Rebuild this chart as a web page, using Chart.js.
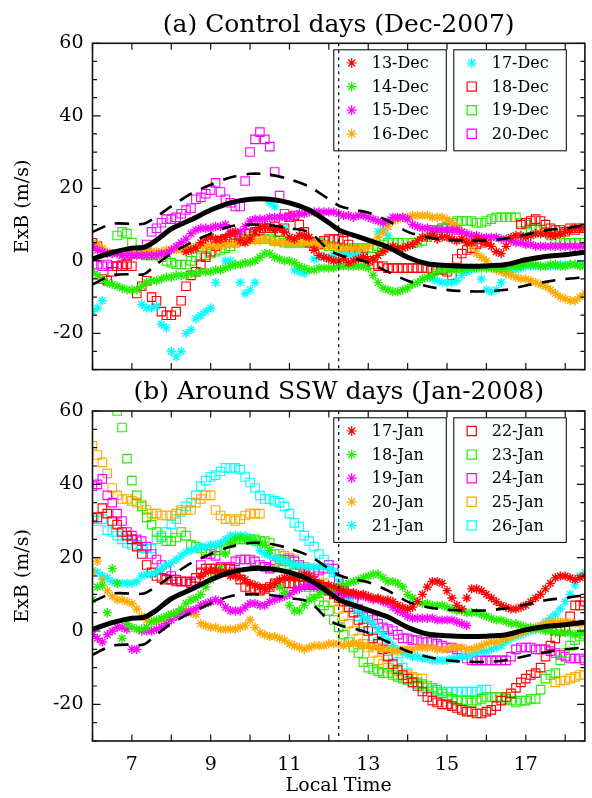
<!DOCTYPE html>
<html><head><meta charset="utf-8">
<script src="https://cdn.jsdelivr.net/npm/chart.js@4.4.1/dist/chart.umd.min.js"></script>
<style>
html,body{margin:0;padding:0;background:#fff;}
#wrap{position:relative;width:592px;height:798px;overflow:hidden;}
canvas{position:absolute;left:0;}
</style></head><body>
<div id="wrap">
<canvas id="cA" width="592" height="390" style="top:0"></canvas>
<canvas id="cB" width="592" height="438" style="top:360px"></canvas>
</div>
<script>
const N = null;
// ---------- DATA ----------
// sample times (local time, hours), one row per hour
const TIMES = [
  6.0,6.125,6.25,6.375,6.5,6.625,6.75,6.875,
  7.0,7.125,7.25,7.375,7.5,7.625,7.75,7.875,
  8.0,8.125,8.25,8.375,8.5,8.625,8.75,8.875,
  9.0,9.125,9.25,9.375,9.5,9.625,9.75,9.875,
  10.0,10.125,10.25,10.375,10.5,10.625,10.75,10.875,
  11.0,11.125,11.25,11.375,11.5,11.625,11.75,11.875,
  12.0,12.125,12.25,12.375,12.5,12.625,12.75,12.875,
  13.0,13.125,13.25,13.375,13.5,13.625,13.75,13.875,
  14.0,14.125,14.25,14.375,14.5,14.625,14.75,14.875,
  15.0,15.125,15.25,15.375,15.5,15.625,15.75,15.875,
  16.0,16.125,16.25,16.375,16.5,16.625,16.75,16.875,
  17.0,17.125,17.25,17.375,17.5,17.625,17.75,17.875,
  18.0,18.125,18.25,18.375,18.5];

const CURVE_TIMES = [6,6.5,7,7.3,7.6,8,8.5,9,9.5,10,10.5,11,11.5,12,12.3,12.7,13,13.5,14,14.5,15,15.5,16,16.5,17,17.5,18,18.5];
const QUIET_MEAN  = [0.5,2.3,3.5,3.7,5.5,8.8,11.3,14,16,17,17,16,14,10.5,8.3,6.8,5.7,3.8,1,-0.8,-1.3,-1.5,-1.4,-1,0.3,1.2,1.7,2.4];
const QUIET_UPPER = [8,10.2,10.2,10.2,12,15,18.5,21,23,24,23.8,22.5,20.5,17,15,14,13.3,11,8,6.5,5.8,5.6,5.6,6.2,7.2,8.4,9,9.8];
const QUIET_LOWER = [-6.5,-4,-3.7,-3.7,-1.2,2,5,7.5,9.5,10,9.8,9,7.9,3,1.5,0.5,-0.5,-3,-5.5,-7,-8,-8.4,-8.4,-8,-6.8,-5.8,-5,-4.5];

const MARKER_LINE = 12.25;
const X_TICKS = [7,9,11,13,15,17];
const Y_TICKS = [-20,0,20,40,60];

// Panel (a): Dec-2007
const DEC_LABELS = ['13-Dec','14-Dec','15-Dec','16-Dec','17-Dec','18-Dec','19-Dec','20-Dec'];
const DEC13 = [N,N,N,N,N,N,N,N, N,N,N,N,N,N,N,N,
  N,N,N,2.5,3,3.5,5,6,
  6.5,6,6,6.5,7.5,8,5.5,5,
  6,8,9,9.5,9,8.5,9,8,
  6.5,6,7,7,6.5,3,1.5,1,
  0.5,0,0,0.5,-0.5,0,0.5,1,
  0,0.5,1.5,2.5,3.5,4,3.5,3.5,
  4,4.5,5.5,6.5,6.5,7,6,6.5,
  6.5,6,5.5,6,5,5,6,5.5,
  5,4,2.5,2,4,6.5,7,7,
  6.5,7,7.5,7.5,7.5,7,7,7.5,
  8,8.5,9,9,9];
const DEC14 = [-3,-4,-5,-6,-6.5,-7,-7.5,-8,
  -8,-8,-7,-6,-5.5,-5.5,-5,-4.5,
  -4.5,-4,-4,-4,-3.5,-3.5,-3,-3,
  -3,-2.5,-2.5,-2,-1.5,-1,-1,-0.5,
  -0.5,0,1,2,2,1,0.5,0,
  0,-0.5,-1.5,-2,-2.5,-2.5,-2,-2,
  -2,-2,-1.5,-1.5,-1.5,-1.5,-1.5,-1.5,
  -2,-4,-6,-7.5,-8,-8.5,-8.5,-8,
  -7.5,-6.5,-6,-5,-4.5,-4,-3,-2.5,
  -2.5,-2.5,-2.5,-2.5,-2,-2,-2,-2,
  -2,-2,-2,-2,-2,-1.5,-1.5,-1.5,
  -1,-1,-1,-1.5,-1.5,-1,-1,-1.5,
  -1.5,-1,-1,-1.5,-1.5];
const DEC15 = [4,3,2.5,2,2,2,1.5,1.5,
  1.5,1.5,1.5,1.5,1.5,1.5,2,2,
  3,4,5,6,7.5,8.5,9,9,
  9,9.5,9.5,10,8,7.5,8,9.5,
  11,11.5,11.5,11.5,12,12,12,12,
  12,12.5,13,13,13.5,13.5,13.5,13.5,
  13.5,13.5,13,12.5,12.5,12,12.5,12.5,
  12,11.5,11,10.5,11,12,12,12,
  11.5,10,9.5,9,9,8.5,8.5,8.5,
  8.5,8.5,8.5,8,7.5,7,7,6.5,
  6.5,6.5,6.5,6,6,5.5,5,5,
  4.5,4.5,4,4,4,4,4,4,
  4,4,4,4,4];
const DEC16 = [5,4.5,3.5,2.5,2,2,1.5,1.5,
  1.5,2,2,2.5,2.5,2.5,2.5,3,
  3,3,3,3.5,3.5,4,4,4,
  4,4,4,4.5,4.5,4.5,5,5.5,
  5.5,5.5,5.5,6,5.5,5,5,5,
  5,5,5,5,5,5,4.5,4.5,
  4,4,3.5,3.5,3.5,3.5,3.5,3.5,
  4,5,6.5,8,9.5,11,11.5,12,
  12,12.5,12.5,12.5,12.5,12,12,12,
  11.5,10.5,9.5,8,6,4,2,1,
  0,-1.5,-2.5,-3,-3.5,-4,-4.5,-5,
  -5,-5.5,-6,-6.5,-7,-8,-9,-10,
  -10.5,-11,-11,-10,-9];
const DEC17 = [-14,-13,-11,N,N,N,N,N,
  N,N,-12,-13,-13,-12.5,-17.5,-18.5,
  -25,-26.5,-25,-20,-19,-16,-15,-14,
  -13,-6,N,0,0,-1,-6,-9,
  -8,-6,N,N,16,15,N,9,
  N,-2.5,-3,-3.5,N,0.5,1,1,
  1,1.5,2,2,1.5,1.5,2,N,
  N,N,8,8.5,7,N,N,N,
  N,N,N,N,N,-5,-5.5,-6,
  -6,-6,-5.5,-4,-3,-2.5,-2,-5,
  -8,-8.5,-8,-6,-3.5,-3,-2.5,-2,
  -1.5,-1.5,-1.5,-1.5,-1.5,-1.5,-1.5,-1,
  -1,-1,-1,-1,-1];
const DEC18 = [5,4,-5,-5.5,-3,-1.5,-1.5,-1,
  -1.5,-9,-7,-5.5,-10,-11,-14,-15,
  -15,-14,-11,-7,-4,-3,-1,1,
  2.5,4,5.5,6,6.5,7,7,7.5,
  7.5,8,8.5,9,9,9.5,8,9,
  12,12.5,10,8,5,4,4.5,5.5,
  6,6,6,5.5,4.5,3,2,1,
  0,-1,-1.5,-1.5,-2,-2,-2,-2,
  -2,-2,-2,-2,-2,-2.5,-2.5,-2.5,
  -3,-4,0.5,2,3,3.5,4.5,5,
  5.5,N,N,N,N,N,N,10,
  10.5,11,11.5,11,10,9,8.5,8.5,
  8,9,8.5,9,9];
const DEC19 = [N,N,N,N,N,7,8,7.5,
  5,2.5,2,1.5,1.5,1.5,1,0,
  -0.5,-1,-1,-1,0,1,1.5,1.5,
  2,2.5,3,3.5,4,5,5.5,6,
  6,6,6,6,6,5.5,5.5,5,
  5,5,5,5,5,5,5,4.5,
  4,4,3.5,3.5,3.5,3.5,3.5,3.5,
  3.5,3.5,4,4.5,5,5,5,5,
  5,5,5,5.5,6.5,8,8.5,9,
  9.5,10.5,11,11,11,11,10.5,10.5,
  11,11.5,12,12,12,12,12,10.5,
  10,9,9,8.5,8,7,6,5.5,
  5,5,5,5,5];
const DEC20 = [-1,-1,-1.5,-1,-1.5,-1.5,-1,1.5,
  2,2.5,3,4.5,8,9,10.5,11.5,
  11.5,12,13,14,14.5,17,17.5,18.5,
  19.5,21.5,19,17,16,15,15,22,
  30,33.5,35.5,33.5,31.5,24.5,18,13,
  N,N,N,N,N,N,N,N,
  N,N,N,N,N,N,N,N,
  N,N,N,N,N,N,N,N,
  N,N,N,N,N,8.5,8.5,9,
  9,9,8.5,N,N,N,N,N,
  N,N,N,N,N,N,N,N,
  N,N,N,N,N,N,N,N,
  N,N,N,N,N];

// Panel (b): Jan-2008
const JAN_LABELS = ['17-Jan','18-Jan','19-Jan','20-Jan','21-Jan','22-Jan','23-Jan','24-Jan','25-Jan','26-Jan'];
const JAN17 = [N,N,N,N,N,N,N,N,
  N,N,N,N,N,N,N,N,
  N,N,N,N,N,N,15,16,
  16.5,16.5,16,16,15,15,14.5,14,
  13,12.5,12,11.5,12,13,14,14.5,
  14.5,14.5,15,15.5,15,14,13,12.5,
  12.5,12,11.5,11,10.5,10.5,10,10,
  9.5,9,9,8.5,8.5,8,7,6.5,
  6,6.5,8,10,12,13.5,13.5,13,
  11,9,7,6,9,11.5,11.5,11,
  10,9,8,7,6.5,6,6,6.5,
  7,8,9,10,11.5,13,14.5,15,
  15,14.5,14,14.5,15];
const JAN18 = [8.5,12,12.5,5,17,13,-2,2,
  1,0.5,0.5,1,2.5,3,3.5,4,
  4.5,5,6,7.5,8.5,9,10,12,
  14,15,17,21,24,25,25.5,25,
  25,24.5,24,23.5,22,17,12,10.5,
  7,5.5,5.5,7,8.5,9,10,11,
  11,11.5,12,12.5,13,13.5,14,14.5,
  15,15.5,15.5,14.5,13.5,13.5,13,12,
  10,9,8,7.5,7.5,7,7,7,
  6.5,6,5.5,5.5,5,5,5,4.5,
  4,3.5,3,3,2.5,2,2,1.5,
  1,1,0.5,0.5,0,0,-0.5,-0.5,
  -0.5,-0.5,-1,-0.5,-0.5];
const JAN19 = [-1,-2,-3,-1,0,1,1,0.5,
  -5,-5,0,0,0,0.5,1,2,
  3,4,5,5,5.5,6,7,7.5,
  8,8.5,8,6.5,5.5,5.5,5.5,6.5,
  7.5,7.5,7,7,8,8.5,9,9.5,
  10,11,11.5,12,12.5,12,11.5,11,
  11,10.5,10.5,10,10,10,9.5,9.5,
  9,8.5,8.5,8,7.5,6.5,5.5,5,
  4,3.5,3.5,3.5,3.5,3.5,3,3,
  3,3,2.5,2,1.5,N,N,N,
  N,N,N,N,N,N,N,N,
  N,N,N,N,N,N,N,N,
  N,N,N,N,N];
const JAN20 = [16,19,14,11,9.5,8.5,8.5,8,
  7.5,6,4,3,2.5,2.5,3,3.5,
  4.5,5,5,5.5,5,4.5,2,1.5,
  1,1,0.5,0.5,0.5,0.5,1,1.5,
  3,1,-0.5,-1,-1.5,-1.5,-2,-2.5,
  -3.5,-4,-4.5,-5,-4.5,-4,-4,-4,
  -3.5,-3.5,-3.5,-4,-3.5,-3.5,-3.5,-4,
  -4,-4.5,-4.5,-5,-5,-5.5,-5.5,-5,
  -5,-5,-4.5,-4.5,-4.5,-4.5,-5,-5,
  -5,-4.5,-4.5,-4.5,-5,-5,-4.5,-4,
  -3.5,-3,-3,-2.5,-2,-1.5,-1,-0.5,
  0,0.5,1,1.5,2,2.5,2.5,2.5,
  2.5,2.5,2,2,2];
const JAN21 = [16.5,16,15,14.5,13.5,13,13,13,
  13,13.5,15,15.5,15.5,16,17,18,
  18.5,19.5,20.5,21.5,22,22.5,23,23,
  23.5,23.5,24,25,26,26,26,26,
  25.5,24,22,21,20.5,20,19.5,19,
  18.5,18,18,17.5,17.5,17.5,17.5,17.5,
  17,16,13,11,9,7,5.5,4,
  3,2,0.5,-1,-2.5,-4,-5,-6,
  -6.5,-7,-7,-7.5,-7.5,-8,-8,-8,
  -8,-7.5,-7.5,-7,-7,-6.5,-6,-5.5,
  -5.5,-5,-4.5,-4,-3,-2,-1.5,-1,
  -0.5,0,0.5,1.5,2.5,3.5,4.5,6,
  8,10,12.5,15,16];
const JAN22 = [31,31,33.5,32,30,29,27,26,
  25,23,21,18,16,15,14.5,14,
  14,13.5,13.5,13.5,13,14.5,16,17,
  17,17,17,17,17,16,14,12,
  11.5,11.5,11,11.5,12,13,13,13,
  13,13,12.5,12.5,12.5,12.5,12.5,12,
  11,10,9,8,6.5,5,3,1,
  0,-2,-3.5,-5,-7,-9,-10.5,-12,
  -13,-14,-15,-16.5,-18,-19,-19.5,-20,
  -20,-20.5,-21,-21.5,-22,-22,-22.5,-22.5,
  -22,-21.5,-20.5,-19,-18,-17,-15.5,-14,
  -13,-12,-11.5,-10,-7,-4,-2,0,
  1,4,7,7,8];
const JAN23 = [N,N,N,N,N,60,55.5,47,
  41,37,34,31,29,27,25.5,24.5,
  24.5,25.5,27,26,23.5,23,22.5,22,
  22,22,22,22.5,24,25,25,25,
  25,25,24.5,24.5,24,21,19.5,19,
  18,16,13,12.5,12,11,8,7,
  5.5,3,1,-1,-3,-4.5,-6,-8.5,
  -10,-10.5,-11,-11.5,-11.5,-12,-12.5,-13,
  -13.5,-14,-14,-14.5,-15,-15.5,-16,-17,
  -18,-18.5,-19,-19,-19,-19.5,-19,-18.5,
  -18,-18,-18,-18,-18.5,-19,-19.5,-19,
  -19,-18.5,-18.5,-16,-13,-12,-11.5,-8,
  -6,-4,-2.5,-1.5,-1];
const JAN24 = [39.5,40,41.5,37,35,32,30,27,
  26,25,24.5,23,21,19.5,18,16.5,
  15,14,13.5,13.5,13.5,13.5,18,21,
  21,20.5,17.5,17,17.5,19,19.5,19.5,
  19.5,19,18,17.5,17,18,19.5,19.5,
  19.5,19,18,16.5,16,16,16.5,17,
  18,17,14,11,10,8,6,5,
  4,3,2,1,0.5,0,-1,-2,
  -2,-2.5,-2.5,-3,-3,-3,-3.5,-4,
  -4.5,-4.5,-5,-6,-7.5,-8,-8,-8,
  -8,-8,-8,-8,-8,-7,-5,-4.5,
  -4.5,-4.5,-5,-5,-5,-5.5,-6,-6.5,
  -7,-7.5,-7.5,-7.5,-8];
const JAN25 = [50.5,48,46,43,39,37,36,36,
  35.5,35,34.5,33,32,32,31.5,31.5,
  31.5,32,33,33,33,35,36,37,
  37,33,31.5,30.5,30.5,30,30.5,31.5,
  32,32,32,N,N,N,21,20.5,
  20,19.5,18,17.5,17,16.5,15,13,
  11,8,6,4,2,0,-2,-3.5,
  -4.5,-6,-8,-9,-10,-10.5,-11,-12,
  -12,-12.5,-13,-13,N,N,N,N,
  N,N,N,N,N,N,N,N,
  N,N,N,N,N,N,N,N,
  N,N,N,N,N,N,-14,-13.5,
  -13.5,-13,-12.5,-12,-12];
const JAN26 = [30.5,30,30.5,27.5,27,26,25,24,
  23.5,23.5,22.5,22.5,22.5,25,26,27,
  29,30.5,32.5,34,35,37,39.5,41,
  42,42.5,43.5,44.5,44.5,44.5,44,42,
  40.5,39,37,36,36,35.5,35,34,
  32,29.5,28.5,26,24.5,23,21,19.5,
  18,16,13,11,8,6,4,2,
  0,-1.5,-3,-4.5,-5.5,-7,-8.5,-10,
  -11.5,-13,-14.5,-15.5,-16.5,-16.5,-16.5,-16.5,
  -16.5,-16.5,-16.5,-16.5,-16.5,-16.5,-16.5,-16,
  -16,N,N,N,N,N,N,N,
  N,N,N,N,N,N,N,N,
  N,N,N,N,N];

// ---------- STYLE ----------
const FONT = '"DejaVu Serif", "Liberation Serif", serif';
const RED='#ff0000', GREEN='#22ee00', MAG='#ff00ff', ORANGE='#ffaa00', CYAN='#00ffff';

function pts(xs, ys){ const o=[]; for(let i=0;i<xs.length;i++){ if(ys[i]!==null && ys[i]!==undefined) o.push({x:xs[i], y:ys[i]}); } return o; }

function curveSets(){
  return [
    {label:'mean', data:pts(CURVE_TIMES,QUIET_MEAN), showLine:true, pointRadius:0, borderColor:'#000', borderWidth:5, tension:0.3, fill:false},
    {label:'upper', data:pts(CURVE_TIMES,QUIET_UPPER), showLine:true, pointRadius:0, borderColor:'#000', borderWidth:2.6, borderDash:[14,10], tension:0.3, fill:false},
    {label:'lower', data:pts(CURVE_TIMES,QUIET_LOWER), showLine:true, pointRadius:0, borderColor:'#000', borderWidth:2.6, borderDash:[14,10], tension:0.3, fill:false}
  ];
}
function markerSet(label, vals, color, style){
  const star = style === 'star';
  return {label, data:pts(TIMES, vals), showLine:false, pointStyle:style,
    pointRadius: star?4.6:6, pointHoverRadius:0, borderColor:color,
    backgroundColor:'rgba(0,0,0,0)', pointBorderWidth: star?1.4:1.1, borderWidth:1};
}

// ---------- PLUGINS ----------
const decorPlugin = {
  id:'decor',
  afterDatasetsDraw(chart, args, opts){
    const ctx = chart.ctx, a = chart.chartArea;
    const x = chart.scales.x, y = chart.scales.y;
    const ds = chart.data.datasets;
    ctx.save();
    // legend boxes
    opts.columns.forEach((col, ci) => {
      const bx = opts.boxX[ci], by = opts.boxY, bw = opts.boxW;
      const bh = opts.first + (col.length-1)*opts.step + opts.last;
      ctx.fillStyle = '#fbfefe';
      ctx.fillRect(bx, by, bw, bh);
      ctx.strokeStyle = '#000'; ctx.lineWidth = 1;
      ctx.strokeRect(bx+0.5, by+0.5, bw, bh);
      col.forEach((di, ri) => {
        const d = ds[di];
        const cy = by + opts.first + ri*opts.step;
        ctx.save();
        ctx.strokeStyle = d.borderColor; ctx.fillStyle = 'rgba(0,0,0,0)'; ctx.lineWidth = 1.2;
        Chart.helpers.drawPoint(ctx, {pointStyle:d.pointStyle, radius: d.pointStyle==='star'?5:6.5, rotation:0, borderWidth:1.2}, bx+18.4, cy);
        ctx.restore();
        ctx.fillStyle = '#000'; ctx.font = '16px ' + FONT; ctx.textBaseline = 'middle'; ctx.textAlign = 'left';
        ctx.fillText(d.label, bx+38.4, cy+1);
      });
    });
    // dotted vertical line
    const xd = x.getPixelForValue(opts.marker);
    ctx.strokeStyle = '#000'; ctx.lineWidth = 1.2; ctx.setLineDash([3,4]);
    ctx.beginPath(); ctx.moveTo(xd, a.top); ctx.lineTo(xd, a.bottom); ctx.stroke();
    ctx.setLineDash([]);
    // frame
    ctx.strokeStyle = '#111'; ctx.lineWidth = 1.6;
    ctx.strokeRect(a.left, a.top, a.right-a.left, a.bottom-a.top);
    // ticks
    ctx.lineWidth = 1.2;
    ctx.beginPath();
    for (let h = 6; h <= 18; h++) {
      const px = x.getPixelForValue(h);
      ctx.moveTo(px, a.bottom); ctx.lineTo(px, a.bottom-6.5);
      ctx.moveTo(px, a.top); ctx.lineTo(px, a.top+6.5);
    }
    for (let v = -30; v <= 60; v += 5) {
      const py = y.getPixelForValue(v);
      const len = (v % 20 === 0) ? 8 : 4.5;
      ctx.moveTo(a.left, py); ctx.lineTo(a.left+len, py);
      ctx.moveTo(a.right, py); ctx.lineTo(a.right-len, py);
    }
    ctx.stroke();
    // title
    ctx.fillStyle = '#000'; ctx.font = '25px ' + FONT; ctx.textAlign = 'center'; ctx.textBaseline = 'alphabetic';
    ctx.fillText(opts.title, (a.left+a.right)/2, opts.titleY);
    ctx.restore();
  }
};

function yScale(){
  return {
    min:-30, max:60,
    afterBuildTicks: s => { s.ticks = Y_TICKS.map(v => ({value:v})); },
    afterFit: s => { s.width = 92.5; },
    grid:{display:false, drawTicks:false}, border:{display:false},
    ticks:{font:{family:FONT, size:19}, color:'#000', padding:9},
    title:{display:true, text:'ExB (m/s)', font:{family:FONT, size:19}, color:'#000', padding:{top:12, bottom:0}}
  };
}

function makeChart(id, datasets, opts){
  return new Chart(document.getElementById(id), {
    type:'scatter',
    data:{datasets},
    options:{
      responsive:false, animation:false, devicePixelRatio:1,
      layout:{padding:opts.padding},
      plugins:{legend:{display:false}, tooltip:{enabled:false}, decor:opts.decor},
      scales:{ x: opts.x, y: yScale() }
    },
    plugins:[decorPlugin]
  });
}

// Panel (a)
const dsA = curveSets().concat([
  markerSet(DEC_LABELS[0], DEC13, RED, 'star'),
  markerSet(DEC_LABELS[1], DEC14, GREEN, 'star'),
  markerSet(DEC_LABELS[2], DEC15, MAG, 'star'),
  markerSet(DEC_LABELS[3], DEC16, ORANGE, 'star'),
  markerSet(DEC_LABELS[4], DEC17, CYAN, 'star'),
  markerSet(DEC_LABELS[5], DEC18, RED, 'rect'),
  markerSet(DEC_LABELS[6], DEC19, GREEN, 'rect'),
  markerSet(DEC_LABELS[7], DEC20, MAG, 'rect')
]);
makeChart('cA', dsA, {
  padding:{top:43.3, right:1.5, bottom:18.5, left:0},
  x:{type:'linear', display:false, min:6, max:18.5},
  decor:{title:'(a) Control days (Dec-2007)', titleY:32, marker:MARKER_LINE,
    columns:[[3,4,5,6],[7,8,9,10]], boxX:[333.3,453.3], boxY:49.3, boxW:112.5, first:13.7, step:23.6, last:16.5}
});

// Panel (b)
const dsB = curveSets().concat([
  markerSet(JAN_LABELS[0], JAN17, RED, 'star'),
  markerSet(JAN_LABELS[1], JAN18, GREEN, 'star'),
  markerSet(JAN_LABELS[2], JAN19, MAG, 'star'),
  markerSet(JAN_LABELS[3], JAN20, ORANGE, 'star'),
  markerSet(JAN_LABELS[4], JAN21, CYAN, 'star'),
  markerSet(JAN_LABELS[5], JAN22, RED, 'rect'),
  markerSet(JAN_LABELS[6], JAN23, GREEN, 'rect'),
  markerSet(JAN_LABELS[7], JAN24, MAG, 'rect'),
  markerSet(JAN_LABELS[8], JAN25, ORANGE, 'rect'),
  markerSet(JAN_LABELS[9], JAN26, CYAN, 'rect')
]);
makeChart('cB', dsB, {
  padding:{top:51, right:1.5, bottom:0, left:0},
  x:{type:'linear', min:6, max:18.5,
     afterBuildTicks: s => { s.ticks = X_TICKS.map(v => ({value:v})); },
     afterFit: s => { s.height = 57; },
     grid:{display:false, drawTicks:false}, border:{display:false},
     ticks:{font:{family:FONT, size:19}, color:'#000', padding:13, maxRotation:0, autoSkip:false},
     title:{display:true, text:'Local Time', font:{family:FONT, size:19}, color:'#000', padding:{top:0, bottom:1}}},
  decor:{title:'(b) Around SSW days (Jan-2008)', titleY:39.3, marker:MARKER_LINE,
    columns:[[3,4,5,6,7],[8,9,10,11,12]], boxX:[333.3,453.3], boxY:57.3, boxW:112.5, first:13.7, step:23.6, last:16.5}
});
</script>
</body></html>
